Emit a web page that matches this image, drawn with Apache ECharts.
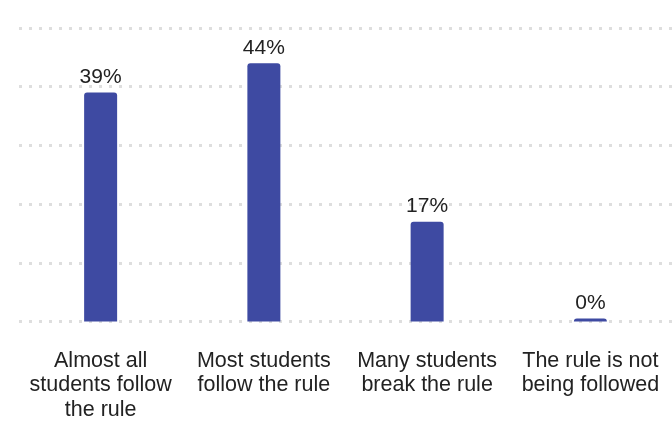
<!DOCTYPE html>
<html>
<head>
<meta charset="utf-8">
<script src="https://cdn.jsdelivr.net/npm/echarts@6/dist/echarts.min.js"></script>
<style>
  html, body { margin: 0; padding: 0; background: #fff; }
  #chart { width: 672px; height: 422px; }
</style>
</head>
<body>
<div id="chart"></div>
<script>
// categories (line breaks as in the picture)
var categories = [
  'Almost all\nstudents follow\nthe rule',
  'Most students\nfollow the rule',
  'Many students\nbreak the rule',
  'The rule is not\nbeing followed'
];
// share of answers, %
var values = [39, 44, 17, 0];

var myChart = echarts.init(document.getElementById('chart'));
myChart.setOption({
  animation: false,
  grid: { left: 19, top: 28, width: 660, height: 295 },
  xAxis: {
    type: 'category',
    data: categories,
    axisLine: { show: false },
    axisTick: { show: false },
    axisLabel: {
      interval: 0,
      margin: 27,
      fontFamily: 'Liberation Sans, Arial, sans-serif',
      fontSize: 21.5,
      lineHeight: 24.5,
      color: '#222'
    }
  },
  yAxis: {
    type: 'value',
    min: 0,
    max: 50,
    interval: 10,
    axisLabel: { show: false },
    axisLine: { show: false },
    axisTick: { show: false },
    splitLine: {
      lineStyle: { color: '#dedede', width: 3, type: [3, 7] }
    }
  },
  series: [{
    type: 'bar',
    data: values,
    barWidth: 33,
    barMinHeight: 3,
    itemStyle: { color: '#3e4aa2', borderRadius: [3, 3, 0, 0] },
    label: {
      show: true,
      position: 'top',
      distance: 5,
      formatter: '{c}%',
      fontFamily: 'Liberation Sans, Arial, sans-serif',
      fontSize: 21,
      color: '#222'
    }
  }]
});
</script>
</body>
</html>
